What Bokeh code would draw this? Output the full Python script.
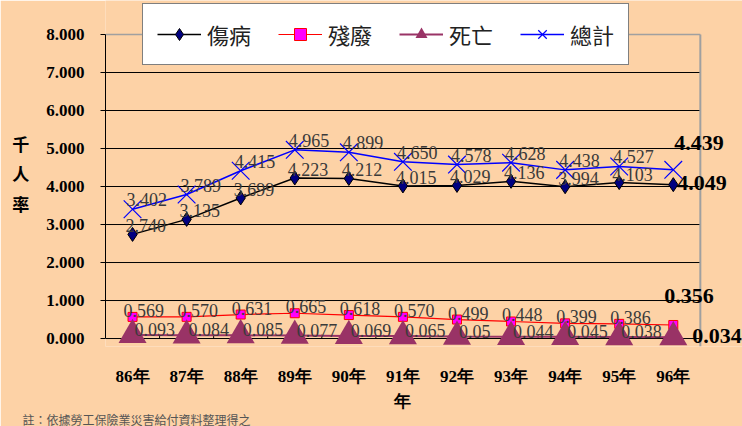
from bokeh.plotting import figure
from bokeh.models import (ColumnDataSource, Range1d, FixedTicker, Legend, LinearAxis,
                          LegendItem, NumeralTickFormatter, Title)
from bokeh.core.properties import value
from bokeh.embed import file_html
from bokeh.resources import INLINE

# ---------------- data ----------------
years = ["86年", "87年", "88年", "89年", "90年", "91年", "92年", "93年", "94年", "95年", "96年"]
injury = [2.740, 3.135, 3.699, 4.223, 4.212, 4.015, 4.029, 4.136, 3.994, 4.103, 4.049]
disability = [0.569, 0.570, 0.631, 0.665, 0.618, 0.570, 0.499, 0.448, 0.399, 0.386, 0.356]
death = [0.093, 0.084, 0.085, 0.077, 0.069, 0.065, 0.05, 0.044, 0.045, 0.038, 0.034]
total = [3.402, 3.789, 4.415, 4.965, 4.899, 4.650, 4.578, 4.628, 4.438, 4.527, 4.439]
death_text = ["0.093", "0.084", "0.085", "0.077", "0.069", "0.065", "0.05", "0.044", "0.045", "0.038", "0.034"]
y_ticks = [0, 1, 2, 3, 4, 5, 6, 7, 8]
series_names = ["傷病", "殘廢", "死亡", "總計"]
y_title = "千\n人\n率"
x_title = "年"
note = "註：依據勞工保險業災害給付資料整理得之"

BG = "#FDD2A6"
SERIF = "Liberation Serif"
CJK = "Noto Sans CJK TC"

n = len(years)
xs = [i + 0.5 for i in range(n)]          # category centres
X_END = 11.78                             # room on the right for end labels
Y_MIN, Y_MAX = -0.21, 8.895               # room below 0 for markers, above 8 for legend

p = figure(x_range=Range1d(0, X_END), y_range=Range1d(Y_MIN, Y_MAX),
           width=742, height=426,
           min_border_left=105, min_border_right=0, min_border_top=0, min_border_bottom=80,
           output_backend="svg", toolbar_location=None,
           background_fill_color=BG, border_fill_color=BG, outline_line_color=None)

# y axis
p.yaxis.ticker = FixedTicker(ticks=y_ticks)
p.yaxis.formatter = NumeralTickFormatter(format="0.000")
p.yaxis.bounds = (0, 8)
p.yaxis.axis_line_color = "black"
p.yaxis.major_tick_out = 5
p.yaxis.major_tick_in = 0
p.yaxis.minor_tick_line_color = None
p.yaxis.major_label_text_font = SERIF
p.yaxis.major_label_text_font_style = "bold"
p.yaxis.major_label_text_font_size = "17px"
p.yaxis.major_label_text_color = "black"
p.yaxis.major_label_standoff = 16
p.yaxis.axis_label = y_title
p.yaxis.axis_label_orientation = "horizontal"
p.yaxis.axis_label_text_font = CJK
p.yaxis.axis_label_text_font_style = "bold"
p.yaxis.axis_label_text_font_size = "17px"
p.yaxis.axis_label_text_color = "black"
p.yaxis.axis_label_standoff = 14

# x axis (category labels)
p.xaxis.ticker = FixedTicker(ticks=xs)
p.xaxis.major_label_overrides = {x: y for x, y in zip(xs, years)}
p.xaxis.axis_line_color = None
p.xaxis.major_tick_line_color = None
p.xaxis.minor_tick_line_color = None
p.xaxis.major_label_text_font = SERIF
p.xaxis.major_label_text_font_style = "bold"
p.xaxis.major_label_text_font_size = "17px"
p.xaxis.major_label_text_color = "black"
p.xaxis.major_label_standoff = 14

# x-axis title, centred under the category span
mid = n / 2
ax2 = LinearAxis(ticker=FixedTicker(ticks=[mid]), major_label_overrides={mid: x_title},
                 axis_line_color=None, major_tick_line_color=None, minor_tick_line_color=None,
                 major_tick_out=0, major_label_standoff=3, major_label_text_font=SERIF,
                 major_label_text_font_style="bold", major_label_text_font_size="17px",
                 major_label_text_color="black")
p.add_layout(ax2, "below")

p.xgrid.visible = False
p.ygrid.visible = False

# gridlines over the category span, plot border
gy = y_ticks[:-1]
p.segment(x0=[0] * len(gy), x1=[n] * len(gy), y0=gy, y1=gy, line_color="black", line_width=1)
p.segment(x0=[0], x1=[n], y0=[y_ticks[-1]], y1=[y_ticks[-1]], line_color="#A0A0A0", line_width=1.5)
p.segment(x0=[n], x1=[n], y0=[y_ticks[-1]], y1=[Y_MIN], line_color="#A0A0A0", line_width=2)
# category boundary ticks on the 0 line
bx = list(range(1, n))
p.segment(x0=bx, x1=bx, y0=[0] * len(bx), y1=[0.1] * len(bx), line_color="black", line_width=1)

# series
r1l = p.line(xs, injury, line_color="black", line_width=1.5)
r1m = p.scatter(xs, injury, marker="diamond", size=14, fill_color="#000080", line_color="black")
r2l = p.line(xs, disability, line_color="#FF0000", line_width=1.2)
r2m = p.scatter(xs, disability, marker="square", size=9, fill_color="#FF00FF", line_color="#FF0000", line_width=1)
r3l = p.line(xs, death, line_color="#993366", line_width=2)
r3m = p.scatter(xs, death, marker="triangle", size=28, fill_color="#993366", line_color=None)
r4l = p.line(xs, total, line_color="#0000FF", line_width=1.5)
r4m = p.scatter(xs, total, marker="x", size=25, line_color="#0000FF", line_width=1.2)

# data labels (all but last point)
def add_labels(vals, texts, dx, dy):
    src = ColumnDataSource(dict(x=xs[:-1], y=vals[:-1], t=texts[:-1]))
    p.text(x="x", y="y", text="t", source=src, x_offset=dx, y_offset=dy,
           text_font=value(SERIF), text_font_size="18px", text_color="#3a3a3a",
           text_align="left", text_baseline="bottom")

add_labels(injury, ["%.3f" % v for v in injury], -7, -2)
add_labels(total, ["%.3f" % v for v in total], -6, -3)
add_labels(disability, ["%.3f" % v for v in disability], -9, 0)
add_labels(death, death_text, 2, 1)

# last-point bold labels
for val, txt, dx, dy in [(total[-1], "%.3f" % total[-1], 1, -20),
                         (injury[-1], "%.3f" % injury[-1], 4, 5),
                         (disability[-1], "%.3f" % disability[-1], -9, -22),
                         (death[-1], death_text[-1], 19, 6)]:
    p.text(x=[xs[-1]], y=[val], text=[txt], x_offset=dx, y_offset=dy,
           text_font=value(SERIF), text_font_style="bold", text_font_size="22px",
           text_color="black", text_align="left", text_baseline="bottom")

# legend
legend = Legend(items=[LegendItem(label=series_names[0], renderers=[r1l, r1m]),
                       LegendItem(label=series_names[1], renderers=[r2l, r2m]),
                       LegendItem(label=series_names[2], renderers=[r3l, r3m]),
                       LegendItem(label=series_names[3], renderers=[r4l, r4m])],
                location=(37, 281), orientation="horizontal",
                label_text_font=CJK, label_text_font_size="22px", label_text_color="#222222",
                glyph_width=44, glyph_height=30, label_standoff=6, spacing=27,
                padding=14, margin=0, border_line_color="black", border_line_width=1,
                background_fill_color="white", background_fill_alpha=1.0)
p.add_layout(legend)

# note at the bottom left
p.add_layout(Title(text=note, align="left", offset=-83, standoff=-6, vertical_align="top",
                   text_font=CJK, text_font_style="normal", text_font_size="12px",
                   text_color="#555555"), "below")

open("out.html", "w").write(file_html(p, INLINE))
